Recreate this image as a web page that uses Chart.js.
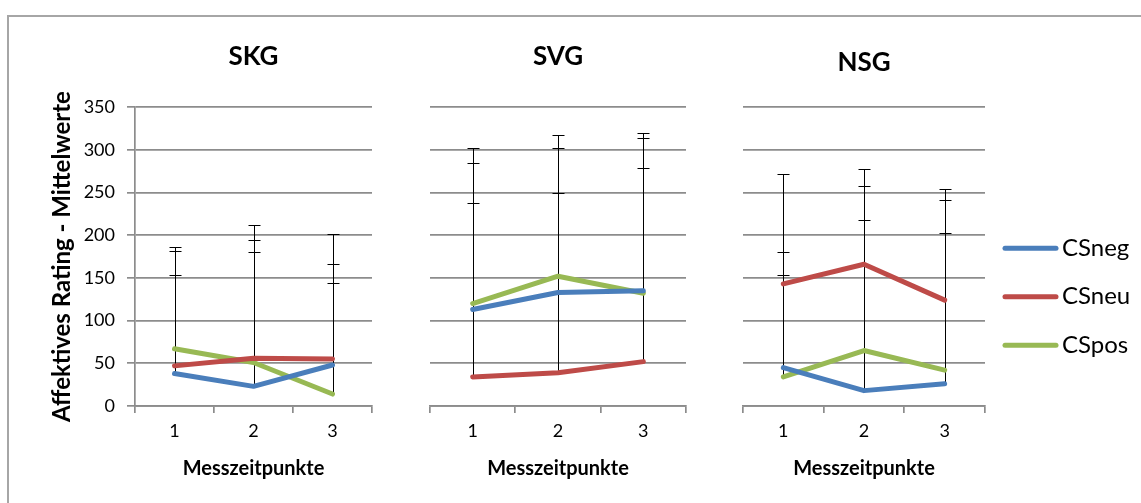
<!DOCTYPE html>
<html lang="de">
<head>
<meta charset="utf-8">
<title>Affektives Rating</title>
<script src="https://cdn.jsdelivr.net/npm/chart.js@4.4.1/dist/chart.umd.min.js"></script>
<style>
  html, body { margin: 0; padding: 0; background: #fff; overflow: hidden; }
  #rahmen { position: absolute; left: 7px; top: 15px; width: 1200px; height: 600px; border: 2px solid #a6a6a6; }
  canvas { position: absolute; top: 0; }
</style>
</head>
<body>
<div id="rahmen"></div>
<canvas id="skg" width="380" height="503" style="left:0px;width:380px;height:503px"></canvas>
<canvas id="svg" width="300" height="503" style="left:400px;width:300px;height:503px"></canvas>
<canvas id="nsg" width="431" height="503" style="left:710px;width:431px;height:503px"></canvas>
<script>
// Messzeitpunkte und Gruppen
const zeitpunkte = ['1', '2', '3'];
const reihenNamen = ['CSneg', 'CSneu', 'CSpos'];
const farben = ['#4a7ebb', '#be4b48', '#98b954'];

// Mittelwerte
const skgNeg = [38, 23, 48];
const skgNeu = [47, 56, 55];
const skgPos = [67, 51, 14];
const svgNeg = [113, 133, 135];
const svgNeu = [34, 39, 52];
const svgPos = [120, 152, 132];
const nsgNeg = [45, 18, 26];
const nsgNeu = [143, 166, 124];
const nsgPos = [34, 65, 42];

// Standardabweichungen (obere Fehlerbalken)
const skgNegSd = [148, 189, 154];
const skgNeuSd = [135, 139, 111];
const skgPosSd = [86, 129, 130];
const svgNegSd = [189, 185, 185];
const svgNeuSd = [251, 263, 262];
const svgPosSd = [118, 97, 147];
const nsgNegSd = [227, 260, 228];
const nsgNeuSd = [37, 92, 117];
const nsgPosSd = [120, 153, 161];

const GRID = '#8c8c8c';
Chart.defaults.font.family = 'Lato, "Open Sans", sans-serif';
Chart.defaults.color = '#000';

// Fehlerbalken nach oben, unter den Linien gezeichnet
const fehlerbalken = {
  id: 'fehlerbalken',
  beforeDatasetsDraw(chart) {
    const ctx = chart.ctx;
    const y = chart.scales.y;
    ctx.save();
    ctx.strokeStyle = '#000';
    ctx.lineWidth = 1;
    chart.data.datasets.forEach((ds, i) => {
      const meta = chart.getDatasetMeta(i);
      ds.data.forEach((wert, j) => {
        const x = Math.round(meta.data[j].x) + 0.5;
        const y0 = y.getPixelForValue(wert);
        const y1 = Math.round(y.getPixelForValue(wert + ds.sd[j])) + 0.5;
        ctx.beginPath();
        ctx.moveTo(x, y0);
        ctx.lineTo(x, y1);
        ctx.moveTo(x - 6, y1);
        ctx.lineTo(x + 6, y1);
        ctx.stroke();
      });
    });
    ctx.restore();
  }
};

// Legende rechts neben dem letzten Diagramm
const legende = {
  id: 'legende',
  afterDraw(chart) {
    if (!chart.options.plugins.legende.show) return;
    const {ctx, chartArea} = chart;
    ctx.save();
    chart.data.datasets.forEach((ds, i) => {
      const yy = chartArea.top + 141 + i * 48.5;
      ctx.strokeStyle = ds.borderColor;
      ctx.lineWidth = 5;
      ctx.lineCap = 'round';
      ctx.beginPath();
      ctx.moveTo(chartArea.right + 20, yy);
      ctx.lineTo(chartArea.right + 71, yy);
      ctx.stroke();
      ctx.fillStyle = '#000';
      ctx.font = '24px Lato, "Open Sans", sans-serif';
      ctx.textBaseline = 'middle';
      ctx.fillText(ds.label, chartArea.right + 77, yy);
    });
    ctx.restore();
  }
};

function reihen(werte, sds) {
  return werte.map((w, i) => ({
    label: reihenNamen[i],
    data: w,
    sd: sds[i],
    borderColor: farben[i],
    backgroundColor: farben[i],
    borderWidth: 5,
    borderCapStyle: 'round',
    borderJoinStyle: 'round',
    pointRadius: 0,
    tension: 0
  }));
}

function baueChart(id, titel, werte, sds, cfg) {
  return new Chart(document.getElementById(id), {
    type: 'line',
    data: { labels: zeitpunkte, datasets: reihen(werte, sds) },
    options: {
      responsive: false,
      animation: false,
      events: [],
      layout: { padding: { left: cfg.padLeft, right: cfg.padRight, top: 0, bottom: 0 } },
      plugins: {
        legend: { display: false },
        tooltip: { enabled: false },
        legende: { show: !!cfg.legende },
        title: {
          display: true,
          text: titel,
          fullSize: false,
          color: '#000',
          font: { size: 26, weight: 'bold' },
          padding: { top: cfg.titelOben, bottom: cfg.titelUnten }
        }
      },
      scales: {
        x: {
          offset: true,
          grid: { offset: true, drawOnChartArea: false, color: GRID, lineWidth: 1.7, tickLength: 7 },
          border: { color: GRID, width: 1.7 },
          ticks: { color: '#000', font: { size: 18 }, padding: 7 },
          title: {
            display: true,
            text: 'Messzeitpunkte',
            color: '#000',
            font: { size: 20, weight: 'bold' },
            padding: { top: 0, bottom: 22 }
          },
          afterFit: s => { s.height = 97; }
        },
        y: {
          min: 0,
          max: 350,
          ticks: { stepSize: 50, display: cfg.yAchse, color: '#000', font: { size: 18 }, padding: 12 },
          grid: { color: GRID, lineWidth: 1.7, drawTicks: cfg.yAchse, tickLength: 8 },
          border: { display: cfg.yAchse, color: GRID, width: 1.7 },
          title: {
            display: cfg.yAchse,
            text: 'Affektives Rating - Mittelwerte',
            color: '#000',
            font: { size: 24, weight: 'bold' },
            padding: { top: 48, bottom: 0 }
          },
          afterFit: s => { s.width = cfg.yBreite; }
        }
      }
    },
    plugins: [fehlerbalken, legende]
  });
}

baueChart('skg', 'SKG', [skgNeg, skgNeu, skgPos], [skgNegSd, skgNeuSd, skgPosSd],
  { padLeft: 0, padRight: 8, yBreite: 135, yAchse: true, titelOben: 41, titelUnten: 35 });
baueChart('svg', 'SVG', [svgNeg, svgNeu, svgPos], [svgNegSd, svgNeuSd, svgPosSd],
  { padLeft: 30, padRight: 14, yBreite: 0, yAchse: false, titelOben: 41, titelUnten: 35 });
baueChart('nsg', 'NSG', [nsgNeg, nsgNeu, nsgPos], [nsgNegSd, nsgNeuSd, nsgPosSd],
  { padLeft: 33, padRight: 156, yBreite: 0, yAchse: false, titelOben: 47, titelUnten: 29, legende: true });
</script>
</body>
</html>
